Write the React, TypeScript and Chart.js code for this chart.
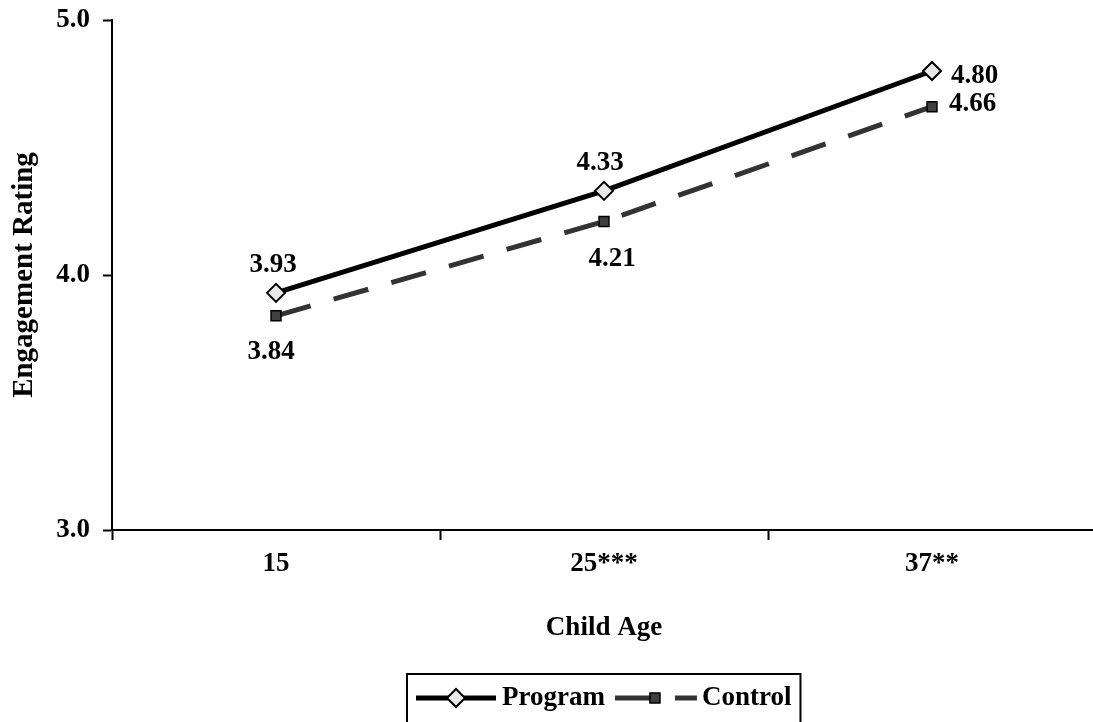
import React, { useEffect, useRef } from "react";
import { Chart, registerables } from "chart.js";

Chart.register(...registerables);

const categories = ["15", "25***", "37**"];
const programValues = [3.93, 4.33, 4.8];
const controlValues = [3.84, 4.21, 4.66];
const yTicks = [3.0, 4.0, 5.0];

const seriesNames = ["Program", "Control"];

// label placement relative to each point (dx, dy, align)
const programLabelPlacement = [
  { dx: -3, dy: -28, align: "center" },
  { dx: -4, dy: -28, align: "center" },
  { dx: 19, dy: 5, align: "left" },
];
const controlLabelPlacement = [
  { dx: -5, dy: 36, align: "center" },
  { dx: 8, dy: 38, align: "center" },
  { dx: 17, dy: -3, align: "left" },
];

const FONT = "'Liberation Serif', 'Times New Roman', serif";

const labelsPlugin = {
  id: "valueLabels",
  afterDatasetsDraw(chart: any) {
    const ctx = chart.ctx;
    const placements = [programLabelPlacement, controlLabelPlacement];
    ctx.save();
    ctx.font = `bold 27px ${FONT}`;
    ctx.fillStyle = "#000";
    ctx.textBaseline = "middle";
    chart.data.datasets.forEach((ds: any, i: number) => {
      const meta = chart.getDatasetMeta(i);
      meta.data.forEach((pt: any, j: number) => {
        const p = placements[i][j];
        ctx.textAlign = p.align;
        ctx.fillText(Number(ds.data[j]).toFixed(2), pt.x + p.dx, pt.y + p.dy);
      });
    });
    ctx.restore();
  },
};

const legendPlugin = {
  id: "boxLegend",
  afterDraw(chart: any) {
    const ctx = chart.ctx;
    const area = chart.chartArea;
    ctx.save();
    ctx.font = `bold 27px ${FONT}`;
    const w0 = ctx.measureText(seriesNames[0]).width;
    const w1 = ctx.measureText(seriesNames[1]).width;
    const padL = 9, padR = 9, s0 = 80, s1 = 82, g0 = 6, g1 = 10, g2 = 5;
    const total = padL + s0 + g0 + w0 + g1 + s1 + g2 + w1 + padR;
    const cx = (area.left + area.right) / 2;
    const left = Math.round(cx - total / 2);
    const top = 674;
    const cy = 698;
    ctx.lineWidth = 2;
    ctx.strokeStyle = "#000";
    ctx.strokeRect(left, top, total, 60);

    // Program sample
    let x = left + padL;
    ctx.beginPath();
    ctx.lineWidth = 5;
    ctx.strokeStyle = "#000";
    ctx.moveTo(x, cy);
    ctx.lineTo(x + s0, cy);
    ctx.stroke();
    const dxm = x + s0 / 2;
    ctx.beginPath();
    ctx.moveTo(dxm, cy - 9);
    ctx.lineTo(dxm + 9, cy);
    ctx.lineTo(dxm, cy + 9);
    ctx.lineTo(dxm - 9, cy);
    ctx.closePath();
    ctx.fillStyle = "#e8e8e8";
    ctx.fill();
    ctx.lineWidth = 2;
    ctx.stroke();
    x += s0 + g0;
    ctx.fillStyle = "#000";
    ctx.textAlign = "left";
    ctx.textBaseline = "middle";
    ctx.fillText(seriesNames[0], x, cy);
    x += w0 + g1;

    // Control sample
    ctx.beginPath();
    ctx.lineWidth = 5;
    ctx.strokeStyle = "#333";
    ctx.setLineDash([36, 24]);
    ctx.moveTo(x, cy);
    ctx.lineTo(x + s1, cy);
    ctx.stroke();
    ctx.setLineDash([]);
    const sq = x + 40;
    ctx.fillStyle = "#404040";
    ctx.fillRect(sq - 5, cy - 5, 10, 10);
    ctx.lineWidth = 1.5;
    ctx.strokeStyle = "#000";
    ctx.strokeRect(sq - 5, cy - 5, 10, 10);
    x += s1 + g2;
    ctx.fillStyle = "#000";
    ctx.fillText(seriesNames[1], x, cy);
    ctx.restore();
  },
};

export default function App() {
  const ref = useRef<HTMLCanvasElement | null>(null);

  useEffect(() => {
    if (!ref.current) return;
    const chart = new Chart(ref.current, {
      type: "line",
      data: {
        labels: categories,
        datasets: [
          {
            label: seriesNames[0],
            data: programValues,
            borderColor: "#000",
            borderWidth: 5,
            pointStyle: "rectRot",
            pointRadius: 9,
            pointBackgroundColor: "#e8e8e8",
            pointBorderColor: "#000",
            pointBorderWidth: 2,
            tension: 0,
            fill: false,
          },
          {
            label: seriesNames[1],
            data: controlValues,
            borderColor: "#333",
            borderWidth: 5,
            borderDash: [36, 24],
            pointStyle: "rect",
            pointRadius: 7,
            pointBackgroundColor: "#404040",
            pointBorderColor: "#000",
            pointBorderWidth: 1.5,
            tension: 0,
            fill: false,
          },
        ],
      },
      options: {
        animation: false,
        responsive: true,
        maintainAspectRatio: false,
        layout: { padding: { top: 20, right: 0, bottom: 72, left: 0 } },
        plugins: {
          legend: { display: false },
          tooltip: { enabled: false },
        },
        scales: {
          x: {
            type: "category",
            offset: true,
            grid: {
              offset: true,
              drawOnChartArea: false,
              drawTicks: true,
              tickLength: 10,
              tickWidth: 2,
              tickColor: "#000",
            },
            border: { display: true, color: "#000", width: 2 },
            ticks: {
              color: "#000",
              padding: 8,
              font: { family: FONT, size: 27, weight: "bold" },
              maxRotation: 0,
            },
            title: {
              display: true,
              text: "Child Age",
              color: "#000",
              font: { family: FONT, size: 27, weight: "bold" },
              padding: { top: 0, bottom: 6 },
            },
            afterFit: (scale: any) => {
              scale.height = 120;
            },
          },
          y: {
            min: 3,
            max: 5,
            afterBuildTicks: (scale: any) => {
              scale.ticks = yTicks.map((v) => ({ value: v }));
            },
            grid: {
              drawOnChartArea: false,
              drawTicks: true,
              tickLength: 9,
              tickWidth: 2,
              tickColor: "#000",
            },
            border: { display: true, color: "#000", width: 2 },
            ticks: {
              color: "#000",
              padding: 13,
              font: { family: FONT, size: 27, weight: "bold" },
              callback: (v: any) => Number(v).toFixed(1),
            },
            title: {
              display: true,
              text: "Engagement Rating",
              color: "#000",
              font: { family: FONT, size: 29, weight: "bold" },
              padding: { top: 7, bottom: 0 },
            },
            afterFit: (scale: any) => {
              scale.width = 112;
              scale.paddingTop = 0;
              scale.paddingBottom = 0;
            },
          },
        },
      },
      plugins: [labelsPlugin, legendPlugin],
    });
    return () => chart.destroy();
  }, []);

  return (
    <div
      style={{
        position: "fixed",
        left: 0,
        top: 0,
        width: 1093,
        height: 722,
        overflow: "hidden",
        background: "#fff",
      }}
    >
      <div style={{ position: "relative", width: 1107, height: 722 }}>
        <canvas ref={ref} />
      </div>
    </div>
  );
}
